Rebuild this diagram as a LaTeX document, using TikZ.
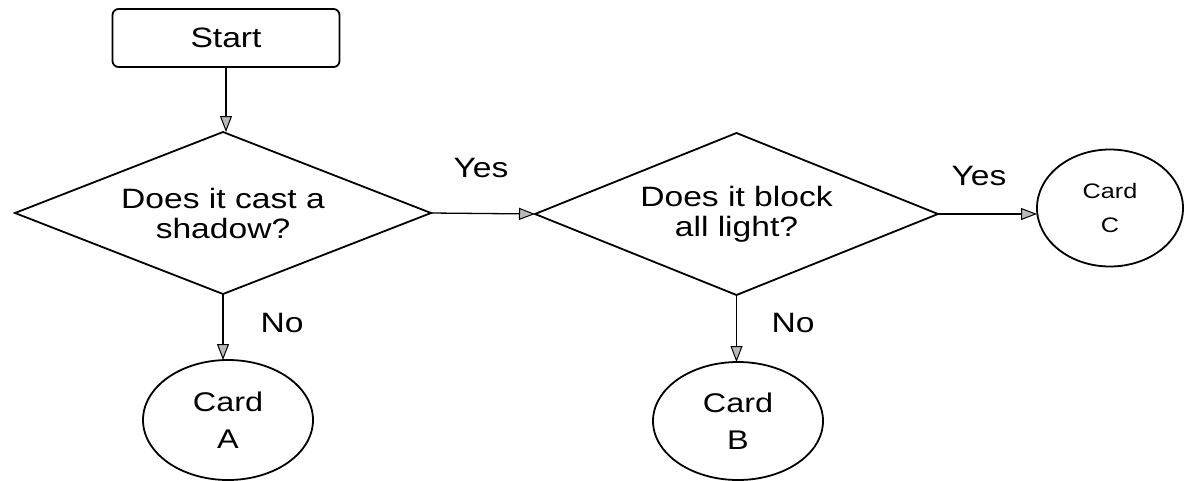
\documentclass[tikz,border=0pt]{standalone}
\usepackage{fontspec}
\setmainfont{Liberation Sans}[FakeStretch=1.2]
\usetikzlibrary{shapes.geometric,arrows.meta}
\begin{document}
\begin{tikzpicture}[x=1pt,y=-1pt,
  every node/.style={inner sep=0pt, outer sep=0pt},
  shapeline/.style={draw=black, line width=1.8pt},
  startbox/.style={shapeline, rectangle, rounded corners=6pt, minimum width=227pt, minimum height=58pt, font=\fontsize{28}{30}\selectfont},
  decision/.style={shapeline, diamond, aspect=2.55, align=center, font=\fontsize{28}{30}\selectfont},
  cardnode/.style={shapeline, ellipse, align=center, font=\fontsize{27}{37}\selectfont},
  lbl/.style={font=\fontsize{28}{30}\selectfont},
  flow/.style={draw=black, line width=1.3pt, -{Triangle[length=16pt,width=12pt,fill=gray!55,line width=1pt]}}
]
\useasboundingbox (0,0) rectangle (1186,480);
\node[startbox] (start) at (226,38) {Start};
\node[decision, minimum width=416pt, minimum height=162pt] (d1) at (223,213) {Does it cast a\\shadow?};
\node[decision, minimum width=403pt, minimum height=162pt] (d2) at (736.5,214) {Does it block\\all light?};
\node[cardnode, minimum width=146pt, minimum height=117pt, font=\fontsize{21}{34}\selectfont] (cc) at (1110,208) {Card\\C};
\node[cardnode, minimum width=170pt, minimum height=120pt] (ca) at (228,420) {Card\\A};
\node[cardnode, minimum width=170pt, minimum height=118pt] (cb) at (738,421) {Card\\B};

\draw[flow] (start.south) -- (start.south |- d1.north);
\draw[flow] (d1.east) -- (d2.west);
\draw[flow] (d2.east) -- (d2.east -| cc.west);
\draw[flow] (d1.south) -- (d1.south |- ca.north);
\draw[flow] (d2.south) -- (d2.south |- cb.north);

\node[lbl] (yes1) at (481,168) {Yes};
\node[lbl] (yes2) at (979,176) {Yes};
\node[lbl] (no1) at (282,323) {No};
\node[lbl] (no2) at (793,323) {No};
\end{tikzpicture}
\end{document}
